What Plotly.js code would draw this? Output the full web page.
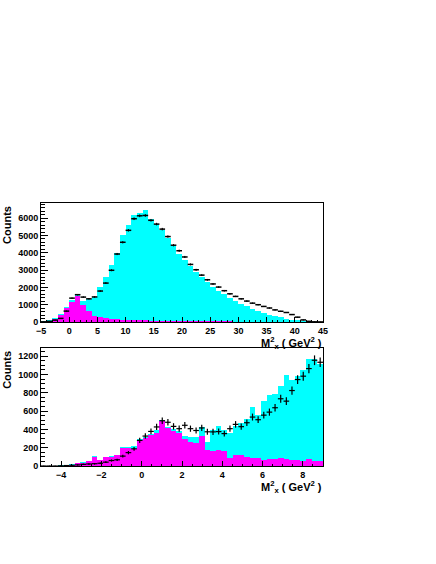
<!DOCTYPE html>
<html>
<head>
<meta charset="utf-8">
<script src="https://cdn.plot.ly/plotly-3.0.1.min.js"></script>
<style>html,body{margin:0;padding:0;background:#fff;}#chart{width:436px;height:564px;}</style>
</head>
<body>
<div id="chart"></div>
<script>
// ---------- Top panel (bin width 1, -5 .. 45) ----------
const topCenters = [-4.5,-3.5,-2.5,-1.5,-0.5,0.5,1.5,2.5,3.5,4.5,5.5,6.5,7.5,8.5,9.5,10.5,11.5,12.5,13.5,14.5,
  15.5,16.5,17.5,18.5,19.5,20.5,21.5,22.5,23.5,24.5,25.5,26.5,27.5,28.5,29.5,30.5,31.5,32.5,33.5,34.5,
  35.5,36.5,37.5,38.5,39.5,40.5,41.5,42.5,43.5,44.5];
const topData = [10,40,110,210,630,1380,1580,1440,1340,1450,1790,2250,2990,3930,4610,5300,5970,6140,6160,5880,
  5660,5370,4940,4440,4120,3760,3330,3020,2710,2440,2200,2020,1810,1630,1480,1340,1210,1090,1000,900,
  810,700,620,550,430,280,120,40,10,5];
const topTotal = [40,110,220,470,870,1250,1610,1200,1320,1470,2020,2600,3300,4000,5050,5580,6170,6290,6470,5980,
  5690,5320,4870,4390,3950,3580,3220,2890,2580,2300,2050,1820,1600,1400,1220,1060,910,770,640,530,
  430,340,270,200,140,90,50,20,5,0];
const topComp = [25,80,170,400,800,1140,1480,1000,620,360,300,250,190,160,140,120,100,95,90,85,
  80,75,70,65,60,55,50,50,45,40,40,35,30,30,25,25,20,20,18,15,
  12,10,8,6,5,4,3,2,1,0];

// ---------- Bottom panel (bin width 0.28, -5 .. 9) ----------
const botCenters = [-4.86,-4.58,-4.30,-4.02,-3.74,-3.46,-3.18,-2.90,-2.62,-2.34,-2.06,-1.78,-1.50,-1.22,-0.94,-0.66,-0.38,-0.10,0.18,0.46,
  0.74,1.02,1.30,1.58,1.86,2.14,2.42,2.70,2.98,3.26,3.54,3.82,4.10,4.38,4.66,4.94,5.22,5.50,5.78,6.06,
  6.34,6.62,6.90,7.18,7.46,7.74,8.02,8.30,8.58,8.86];
const botData = [0,0,0,2,5,8,12,18,22,25,30,42,60,68,108,146,188,280,327,378,
  427,495,478,433,408,445,408,388,416,374,373,376,354,408,455,430,473,535,506,556,
  589,637,735,709,825,945,982,1065,1156,1134];
const botErr = [0,0,0,2,3,4,5,6,7,8,8,10,12,12,15,18,20,28,30,32,
  34,36,36,35,34,35,34,33,34,33,33,33,32,34,36,35,36,38,37,38,
  39,40,43,42,45,48,49,51,53,53];
const botTotal = [0,0,3,8,15,18,35,40,60,105,70,102,105,122,210,210,220,292,320,348,
  390,505,425,405,380,330,320,320,430,265,395,435,390,365,440,470,515,650,560,710,
  780,790,880,995,935,985,1045,1170,1175,1110];
const botComp = [0,0,2,5,10,12,30,35,55,98,66,98,100,117,200,200,185,280,310,335,
  365,492,410,385,365,300,260,255,327,170,168,175,160,91,117,117,102,91,91,66,
  73,73,91,80,66,66,55,73,55,55];

const CYAN = '#00ffff', MAG = '#ff00ff';
const tickFont = {family: 'Liberation Sans, Arial, sans-serif', size: 9, color: '#000', weight: 'bold'};
const titleFont = {family: 'Liberation Sans, Arial, sans-serif', size: 11, color: '#000', weight: 'bold'};

const traces = [
  {type:'bar', x: topCenters, y: topTotal, width: 1, marker:{color: CYAN, line:{width:0}}, xaxis:'x', yaxis:'y', hoverinfo:'skip'},
  {type:'bar', x: topCenters, y: topComp, width: 1, marker:{color: MAG, line:{width:0}}, xaxis:'x', yaxis:'y', hoverinfo:'skip'},
  {type:'scatter', mode:'markers', x: topCenters, y: topData, xaxis:'x', yaxis:'y',
    marker:{size:1, color:'#000'},
    error_x:{type:'constant', value:0.5, width:0, thickness:1.5, color:'#000'},
    error_y:{type:'sqrt', width:0, thickness:1, color:'#000'}},
  {type:'bar', x: botCenters, y: botTotal, width: 0.28, marker:{color: CYAN, line:{width:0}}, xaxis:'x2', yaxis:'y2', hoverinfo:'skip'},
  {type:'bar', x: botCenters, y: botComp, width: 0.28, marker:{color: MAG, line:{width:0}}, xaxis:'x2', yaxis:'y2', hoverinfo:'skip'},
  {type:'scatter', mode:'markers', x: botCenters, y: botData, xaxis:'x2', yaxis:'y2',
    marker:{size:1, color:'#000'},
    error_x:{type:'constant', value:0.14, width:0, thickness:1.2, color:'#000'},
    error_y:{type:'data', array: botErr, width:0, thickness:1.2, color:'#000'}}
];

function ax(extra) {
  return Object.assign({
    showline: true, mirror: true, linecolor: '#000', linewidth: 1,
    showgrid: false, zeroline: false, ticks: 'inside', tickcolor: '#000',
    tickfont: tickFont, fixedrange: true
  }, extra);
}

const layout = {
  width: 436, height: 564,
  margin: {l: 41, r: 113, t: 203, b: 98},
  paper_bgcolor: '#fff', plot_bgcolor: '#fff',
  showlegend: false, barmode: 'overlay', bargap: 0,
  xaxis: ax({anchor:'y', domain:[0,1], range:[-5,45], tick0:-5, dtick:5, ticklen:5,
    minor:{ticks:'inside', ticklen:2.5, dtick:1, tickcolor:'#000', showgrid:false}}),
  yaxis: ax({anchor:'x', domain:[0.5475,1], range:[0,6880], dtick:1000, ticklen:7,
    minor:{ticks:'inside', ticklen:4, dtick:200, tickcolor:'#000', showgrid:false}}),
  xaxis2: ax({anchor:'y2', domain:[0,1], range:[-5,9], tick0:0, dtick:2, ticklen:5,
    minor:{ticks:'inside', ticklen:2.5, dtick:0.5, tickcolor:'#000', showgrid:false}}),
  yaxis2: ax({anchor:'x2', domain:[0,0.4487], range:[0,1290], dtick:200, ticklen:7,
    minor:{ticks:'inside', ticklen:4, dtick:50, tickcolor:'#000', showgrid:false}}),
  annotations: [
    {text:'Counts', xref:'paper', yref:'paper', x:-0.121, y:0.996, xanchor:'center', yanchor:'top',
      textangle:-90, showarrow:false, font:titleFont},
    {text:'Counts', xref:'paper', yref:'paper', x:-0.121, y:0.445, xanchor:'center', yanchor:'top',
      textangle:-90, showarrow:false, font:titleFont},
    {text:'M<sup>2</sup><sub>x</sub> ( GeV<sup>2</sup> )', xref:'paper', yref:'paper', x:1.005, y:0.466,
      xanchor:'right', yanchor:'middle', showarrow:false, font:titleFont},
    {text:'M<sup>2</sup><sub>x</sub> ( GeV<sup>2</sup> )', xref:'paper', yref:'paper', x:1.005, y:-0.081,
      xanchor:'right', yanchor:'middle', showarrow:false, font:titleFont}
  ]
};

Plotly.newPlot('chart', traces, layout, {staticPlot: true, displayModeBar: false});
</script>
</body>
</html>
